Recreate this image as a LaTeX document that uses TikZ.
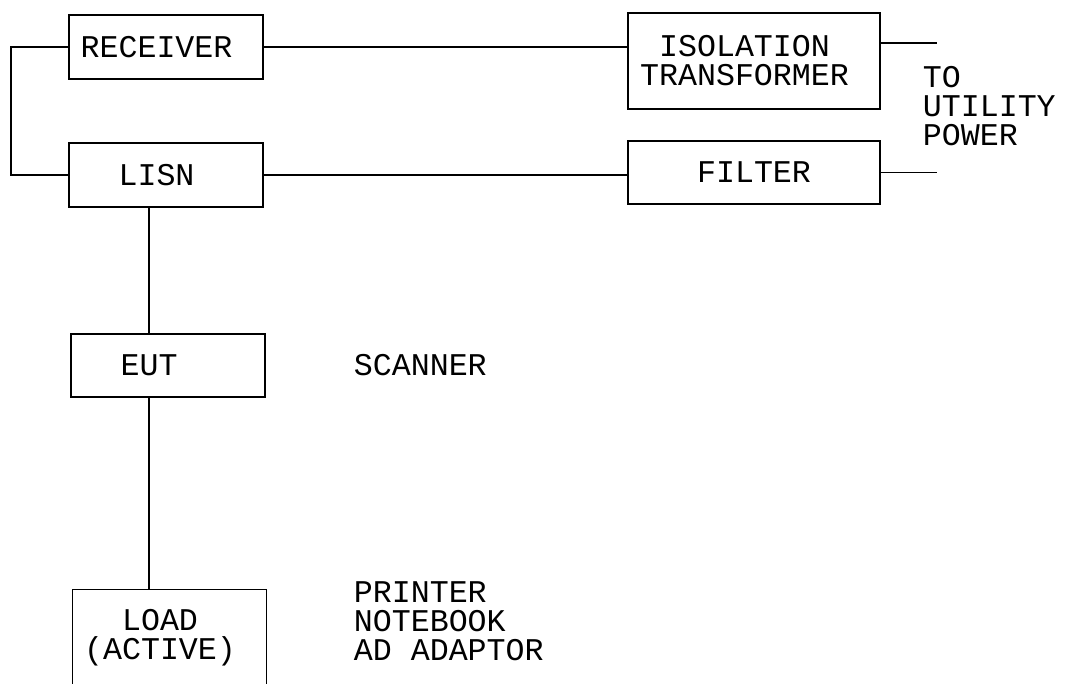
\documentclass[tikz,border=0pt]{standalone}
\usepackage{fontspec}
\setmonofont{Liberation Mono}
\usetikzlibrary{positioning}
\newcommand{\pd}{\phantom{X}}
\begin{document}
\begin{tikzpicture}[x=0.02cm,y=-0.02cm,line width=1pt]
      \tikzset{box/.style={draw,align=center,inner sep=0pt,minimum width=3.88cm,minimum height=1.28cm,
          font=\ttfamily\fontsize{18}{16.5}\selectfont},
        txt/.style={anchor=west,align=left,inner sep=0pt,font=\ttfamily\fontsize{18}{16.5}\selectfont}}
      \useasboundingbox (0,0) rectangle (1067,683);
      \node[box] (receiver) at (166,47) {RECEIVER\pd};
      \node[box] (lisn) at (166,175) {LISN\pd};
      \node[box, minimum width=5.04cm, minimum height=1.92cm] (iso) at (754,61) {ISOLATION\pd\\TRANSFORMER\pd};
      \node[box, minimum width=5.04cm, minimum height=1.26cm] (filter) at (754,172.5) {FILTER};
      \node[box, minimum height=1.26cm] (eut) at (168,365.5) {EUT\pd\pd};
      \node[box, minimum height=1.92cm] (load) at (169.5,637.5) {LOAD\pd\\(ACTIVE)\pd};
      \node[txt] (scanner) at (353,365) {SCANNER};
      \node[txt] (loads) at (353,621) {PRINTER\\NOTEBOOK\\AD ADAPTOR};
      \node[txt] (utility) at (922,106) {TO\\UTILITY\\POWER};
      \coordinate (bus) at (149,0);
      \coordinate (pwr1) at (937,43);
      \coordinate (pwr2) at (937,172.5);
      \draw (receiver.west) -- ++(-57,0) |- (lisn.west);
      \draw (receiver.east) -- (receiver.east -| iso.west);
      \draw (lisn.east) -- (lisn.east -| filter.west);
      \draw (pwr1 -| iso.east) -- (pwr1);
      \draw (filter.east) -- (filter.east -| pwr2);
      \draw (lisn.south -| bus) -- (eut.north -| bus);
      \draw (eut.south -| bus) -- (load.north -| bus);
\end{tikzpicture}
\end{document}
